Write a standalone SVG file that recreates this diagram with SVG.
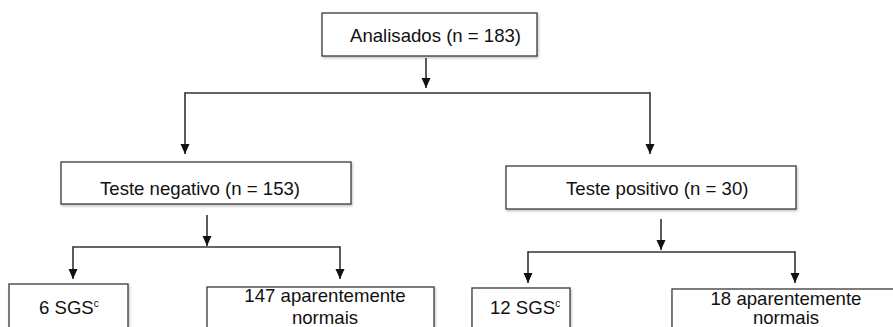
<svg xmlns="http://www.w3.org/2000/svg" width="893" height="327" viewBox="0 0 893 327">
<defs>
<marker id="arr" markerUnits="userSpaceOnUse" markerWidth="10" markerHeight="10" viewBox="0 0 10 10" refX="10" refY="5" orient="auto">
<path d="M0,0.5 L10,5 L0,9.5 Z" fill="#111"/>
</marker>
<filter id="sh" x="-5%" y="-5%" width="110%" height="120%">
<feDropShadow dx="1" dy="1.5" stdDeviation="0.8" flood-color="#000" flood-opacity="0.25"/>
</filter>
<style>
.box{fill:#fff;stroke:#3a3a3a;stroke-width:1.3;filter:url(#sh)}
.t{font-family:"Liberation Sans",Arial,Helvetica,sans-serif;font-size:18.6px;fill:#111}
.sup{font-size:10px}
.c{fill:none;stroke:#333;stroke-width:1.6}
</style>
</defs>
<rect width="893" height="327" fill="#fff"/>
<g id="connectors">
<line class="c" x1="426" y1="58" x2="426" y2="88" marker-end="url(#arr)"/>
<line class="c" x1="185" y1="93" x2="650" y2="93"/>
<line class="c" x1="185" y1="92.2" x2="185" y2="154" marker-end="url(#arr)"/>
<line class="c" x1="650" y1="92.2" x2="650" y2="154" marker-end="url(#arr)"/>
<line class="c" x1="207" y1="215" x2="207" y2="246" marker-end="url(#arr)"/>
<line class="c" x1="73" y1="247" x2="340" y2="247"/>
<line class="c" x1="73" y1="246.2" x2="73" y2="279" marker-end="url(#arr)"/>
<line class="c" x1="340" y1="246.2" x2="340" y2="279" marker-end="url(#arr)"/>
<line class="c" x1="661" y1="219" x2="661" y2="250" marker-end="url(#arr)"/>
<line class="c" x1="528" y1="252" x2="795" y2="252"/>
<line class="c" x1="528" y1="251.2" x2="528" y2="283" marker-end="url(#arr)"/>
<line class="c" x1="795" y1="251.2" x2="795" y2="283" marker-end="url(#arr)"/>
</g>
<g id="analisados">
<rect class="box" x="322" y="13" width="215" height="43"/>
<text class="t" x="350" y="42">Analisados (n = 183)</text>
</g>
<g id="negativo">
<rect class="box" x="61" y="162" width="290" height="42"/>
<text class="t" x="100" y="195">Teste negativo (n = 153)</text>
</g>
<g id="positivo">
<rect class="box" x="506" y="166" width="290" height="43"/>
<text class="t" x="566" y="195">Teste positivo (n = 30)</text>
</g>
<g id="sgs6">
<rect class="box" x="9" y="284" width="119" height="60"/>
<text class="t" x="39" y="314">6 SGS<tspan class="sup" dy="-7">c</tspan></text>
</g>
<g id="normais147">
<rect class="box" x="207" y="287" width="227" height="60"/>
<text class="t" text-anchor="middle" x="325" y="302">147 aparentemente</text>
<text class="t" text-anchor="middle" x="325" y="324">normais</text>
</g>
<g id="sgs12">
<rect class="box" x="472" y="288" width="98" height="60"/>
<text class="t" x="490" y="314">12 SGS<tspan class="sup" dy="-7">c</tspan></text>
</g>
<g id="normais18">
<rect class="box" x="672" y="289" width="240" height="60"/>
<text class="t" text-anchor="middle" x="786" y="305">18 aparentemente</text>
<text class="t" text-anchor="middle" x="786" y="324">normais</text>
</g>
</svg>
